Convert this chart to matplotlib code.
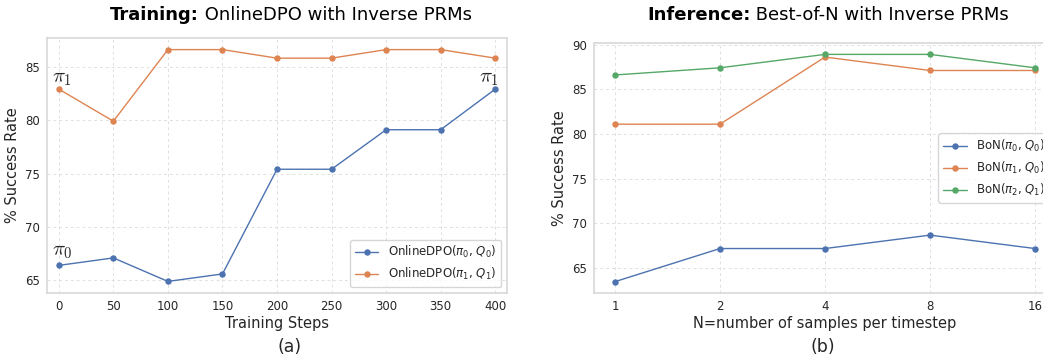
import numpy as np
import matplotlib
matplotlib.use('Agg')
import matplotlib.pyplot as plt
import seaborn as sns

# data
steps = [0, 50, 100, 150, 200, 250, 300, 350, 400]
dpo_pi0_q0 = [66.4, 67.1, 64.9, 65.6, 75.4, 75.4, 79.1, 79.1, 82.9]
dpo_pi1_q1 = [82.9, 79.9, 86.6, 86.6, 85.8, 85.8, 86.6, 86.6, 85.8]

n_samples = [1, 2, 4, 8, 16]
bon_pi0_q0 = [63.5, 67.2, 67.2, 68.7, 67.2]
bon_pi1_q0 = [81.1, 81.1, 88.6, 87.1, 87.1]
bon_pi2_q1 = [86.6, 87.4, 88.9, 88.9, 87.4]

sns.set_theme(style='whitegrid', rc={'grid.linestyle': (0, (3, 3)), 'grid.linewidth': 0.7,
                                     'axes.edgecolor': '.85', 'grid.color': '.88'})
plt.rcParams['font.family'] = ['DejaVu Sans']

pal = sns.color_palette('deep')
blue, orange, green = pal[0], pal[1], pal[2]

fig = plt.figure(figsize=(10.43, 3.6), dpi=100)
ax1 = fig.add_axes([0.0451, 0.1861, 0.441, 0.7083])
ax2 = fig.add_axes([0.5695, 0.1861, 0.443, 0.6944])

line_kw = dict(marker='o', markersize=3.6, linewidth=1)

# (a) training
ax1.plot(steps, dpo_pi0_q0, color=blue, label=r'OnlineDPO($\pi_0$, $Q_0$)', **line_kw)
ax1.plot(steps, dpo_pi1_q1, color=orange, label=r'OnlineDPO($\pi_1$, $Q_1$)', **line_kw)
ax1.margins(x=0.027)
ax1.set_xticks(steps)
ax1.set_xlabel('Training Steps', fontsize=10.5, labelpad=2)
ax1.set_ylabel('% Success Rate', fontsize=10.5)
ax1.yaxis.set_label_coords(-0.059, 0.5)
ax1.tick_params(labelsize=8.5, length=0, pad=5)
ax1.legend(loc='lower right', fontsize=8.5, frameon=True)

ann_kw = dict(textcoords='offset points', fontsize=15, math_fontfamily='cm')
ax1.annotate(r'$\pi_1$', xy=(steps[0], dpo_pi1_q1[0]), xytext=(-5, 1), ha='left', va='bottom', **ann_kw)
ax1.annotate(r'$\pi_0$', xy=(steps[0], dpo_pi0_q0[0]), xytext=(-5, 3), ha='left', va='bottom', **ann_kw)
ax1.annotate(r'$\pi_1$', xy=(steps[-1], dpo_pi0_q0[-1]), xytext=(3, 1), ha='right', va='bottom', **ann_kw)

# (b) inference
ax2.plot(n_samples, bon_pi0_q0, color=blue, label=r'BoN($\pi_0$, $Q_0$)', **line_kw)
ax2.plot(n_samples, bon_pi1_q0, color=orange, label=r'BoN($\pi_1$, $Q_0$)', **line_kw)
ax2.plot(n_samples, bon_pi2_q1, color=green, label=r'BoN($\pi_2$, $Q_1$)', **line_kw)
ax2.set_xscale('log', base=2)
ax2.set_xticks(n_samples)
ax2.set_xticklabels([str(n) for n in n_samples])
ax2.minorticks_off()
ax2.set_xlabel('N=number of samples per timestep', fontsize=10.5, labelpad=2)
ax2.set_ylabel('% Success Rate', fontsize=10.5)
ax2.yaxis.set_label_coords(-0.058, 0.5)
ax2.tick_params(labelsize=8.5, length=0, pad=5)
ax2.legend(loc='center right', fontsize=8.5, frameon=True)

# titles: bold prefix + regular rest
def two_part_title(x, head, rest):
    t = fig.text(x, 1 - 15 / 360, head, ha='left', va='center', fontsize=13,
                 fontweight='bold', color='black')
    ax1.annotate(rest, xy=(1, 0), xycoords=t, ha='left', va='bottom', fontsize=13,
                 color='black', annotation_clip=False)

two_part_title(110 / 1043, 'Training:', ' OnlineDPO with Inverse PRMs')
two_part_title(647 / 1043, 'Inference:', ' Best-of-N with Inverse PRMs')

fig.text(290 / 1043, 1 - 347 / 360, '(a)', ha='center', va='center', fontsize=12.5, color='.15')
fig.text(823 / 1043, 1 - 347 / 360, '(b)', ha='center', va='center', fontsize=12.5, color='.15')

fig.savefig('out.png', dpi=100)
